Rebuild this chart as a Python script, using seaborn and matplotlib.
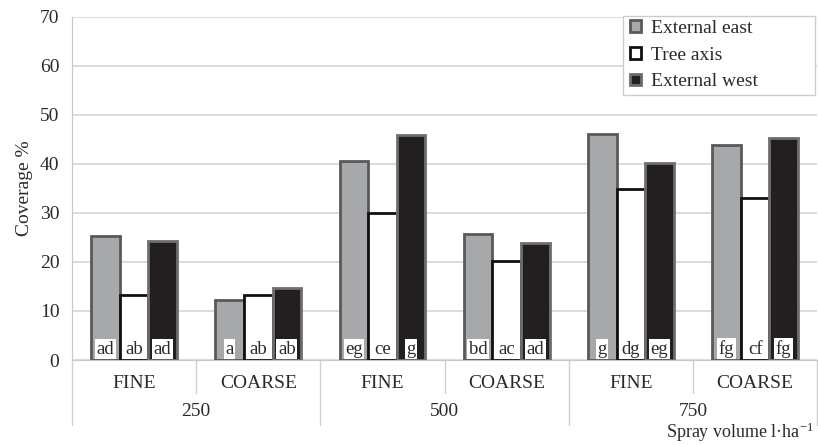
import matplotlib
matplotlib.use("Agg")
import matplotlib.pyplot as plt
import matplotlib.transforms as mtransforms
import seaborn as sns
import pandas as pd

# Spray volume groups and droplet size classes
volumes = ["250", "500", "750"]
droplets = ["FINE", "COARSE"]
positions = ["External east", "Tree axis", "External west"]

# Coverage (%) per volume/droplet combination, one list per canopy position
external_east = [25.2, 12.3, 40.6, 25.8, 46.2, 43.9]
tree_axis = [13.2, 13.3, 30.0, 20.3, 34.8, 33.1]
external_west = [24.2, 14.6, 46.0, 23.8, 40.2, 45.2]

# Significance letters per bar
letters_east = ["ad", "a", "eg", "bd", "g", "fg"]
letters_axis = ["ab", "ab", "ce", "ac", "dg", "cf"]
letters_west = ["ad", "ab", "g", "ad", "eg", "fg"]

groups = [f"{v} {d}" for v in volumes for d in droplets]
series = {
    "External east": (external_east, letters_east),
    "Tree axis": (tree_axis, letters_axis),
    "External west": (external_west, letters_west),
}
rows = []
for pos, (vals, lets) in series.items():
    for g, val, let in zip(groups, vals, lets):
        rows.append({"group": g, "position": pos, "coverage": val, "letter": let})
df = pd.DataFrame(rows)

sns.set_style("white")
plt.rcParams["font.family"] = ["Liberation Serif", "DejaVu Serif"]
plt.rcParams["mathtext.fontset"] = "stix"

TXT = "#2a2a2a"
fills = {"External east": "#a7a8aa", "Tree axis": "#ffffff", "External west": "#231f20"}
edges = {"External east": "#58595b", "Tree axis": "#111111", "External west": "#6d6e70"}

W, H = 818, 445
fig = plt.figure(figsize=(W / 100, H / 100), dpi=100)
ax = fig.add_axes([0.088, 0.191, 0.911, 0.771])

sns.barplot(data=df, x="group", y="coverage", hue="position", order=groups,
            hue_order=positions, palette=fills, width=0.69, gap=0,
            saturation=1, ax=ax, legend=False, zorder=3)

for cont, pos in zip(ax.containers, positions):
    lets = series[pos][1]
    for bar, let in zip(cont, lets):
        bar.set_edgecolor(edges[pos])
        bar.set_linewidth(2.0)
        cx = bar.get_x() + bar.get_width() / 2
        ax.text(cx, 0.5, let, ha="center", va="bottom", fontsize=13.5,
                color=TXT, zorder=5,
                bbox=dict(boxstyle="square,pad=0.08", fc="white", ec="none"))

ax.set_ylim(0, 70)
ax.set_xlim(-0.5, 5.5)
ax.set_yticks(range(0, 71, 10))
ax.tick_params(axis="y", labelsize=14, length=5, color="#bbbbbb", pad=4,
               labelcolor=TXT)
ax.grid(axis="y", color="#d4d4d4", linewidth=1.2, zorder=0)
ax.set_axisbelow(True)
for s in ["top", "right"]:
    ax.spines[s].set_visible(False)
ax.spines["left"].set_color("#c8c8c8")
ax.spines["bottom"].set_color("#c8c8c8")
ax.spines["left"].set_bounds(0, 70)
ax.set_ylabel("Coverage %", fontsize=14, color=TXT, labelpad=5)
ax.set_xlabel("")

# Two-level category axis
ax.set_xticks(range(len(groups)))
ax.set_xticklabels([d for v in volumes for d in droplets], fontsize=14,
                   color=TXT)
ax.tick_params(axis="x", length=0, pad=11)

trans = mtransforms.blended_transform_factory(ax.transData, ax.transAxes)
line_kw = dict(transform=trans, clip_on=False, color="#d0d0d0", linewidth=1.0)
for i in range(len(groups) + 1):
    xb = i - 0.5
    bottom = -0.19 if i % 2 == 0 else -0.095
    ax.plot([xb, xb], [0, bottom], **line_kw)
for k, v in enumerate(volumes):
    ax.text(2 * k + 0.5, -0.151, v, transform=trans, ha="center", va="center",
            fontsize=14, color=TXT)
ax.text(0.996, -0.228, r"Spray volume l·ha$^{\mathregular{-1}}$",
        transform=ax.transAxes, ha="right", va="baseline", fontsize=13,
        color=TXT)

# Legend: entries plus a wide white box behind them
box = plt.Rectangle((623 / W, 1 - 95 / H), 192 / W, 79 / H,
                    transform=fig.transFigure, fc="white", ec="#cccccc",
                    lw=1.0, zorder=10)
fig.add_artist(box)
handles = [plt.Rectangle((0, 0), 1, 1, fc=fills[p], ec=edges[p], lw=2.0)
           for p in positions]
leg = fig.legend(handles, positions, loc="upper left",
                 bbox_to_anchor=(624 / W, 1 - 14 / H), fontsize=14,
                 frameon=False, handlelength=0.55, handleheight=0.55,
                 handletextpad=0.55, labelspacing=0.5, borderpad=0.3,
                 borderaxespad=0)
leg.set_zorder(11)
for t in leg.get_texts():
    t.set_color(TXT)

fig.savefig("out.png", dpi=100)
